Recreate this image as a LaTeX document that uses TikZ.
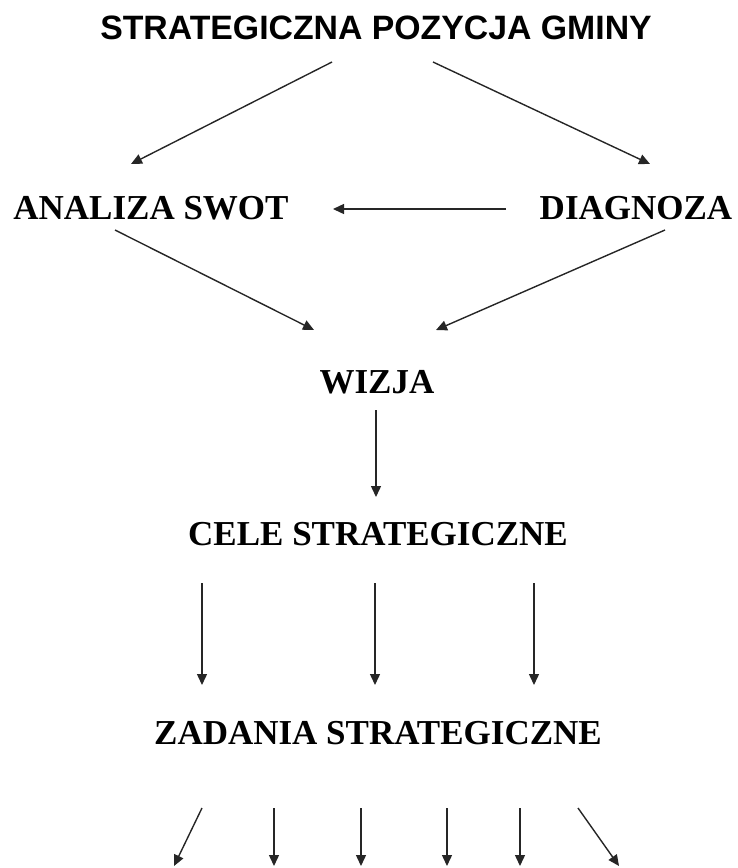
\documentclass[tikz,border=0pt]{standalone}
\usepackage{fontspec}
\setmainfont{Liberation Serif}
\newfontfamily\titlefont{Liberation Sans}
\usetikzlibrary{arrows.meta}
\tikzset{
	lvl/.style={font=\fontsize{35}{38}\selectfont\bfseries, inner sep=0pt, anchor=base},
	arr/.style={-{Triangle[length=11pt,width=10pt]}, line width=1.4pt, black!85}
}
\begin{document}
\begin{tikzpicture}[x=1pt,y=-1pt]
		\useasboundingbox (0,0) rectangle (737,868);
		% set up nodes
		\node[inner sep=0pt,anchor=base,font=\titlefont\fontsize{33.8}{36}\selectfont\bfseries] (poz) at (376,39) {STRATEGICZNA POZYCJA GMINY};
		\node[lvl] (swot) at (151,219) {ANALIZA SWOT};
		\node[lvl] (diag) at (636,219) {DIAGNOZA};
		\node[lvl] (wiz) at (377,393) {WIZJA};
		\node[lvl] (cele) at (378,545) {CELE STRATEGICZNE};
		\node[lvl] (zad) at (378,744) {ZADANIA STRATEGICZNE};
		% end points of the arrows
		\coordinate (p1) at (332,62);  \coordinate (s1) at (131,164);
		\coordinate (p2) at (433,62);  \coordinate (d1) at (650,164);
		\coordinate (d2) at (506,209); \coordinate (s2) at (333,209);
		\coordinate (s3) at (115,230); \coordinate (w1) at (314,330);
		\coordinate (d3) at (665,230); \coordinate (w2) at (436,330);
		\coordinate (w3) at (376,410); \coordinate (c1) at (376,497);
		% connect them
		\draw[arr] (p1) -- (s1);
		\draw[arr] (p2) -- (d1);
		\draw[arr] (d2) -- (s2);
		\draw[arr] (s3) -- (w1);
		\draw[arr] (d3) -- (w2);
		\draw[arr] (w3) -- (c1);
		\foreach \x in {202,375,534}
			\draw[arr] (\x,583) -- (\x,685);
		\draw[arr] (202,808) -- (174,866);
		\foreach \x in {274,361,447,520}
			\draw[arr] (\x,808) -- (\x,866);
		\draw[arr] (578,808) -- (619,866);
	\end{tikzpicture}
\end{document}
